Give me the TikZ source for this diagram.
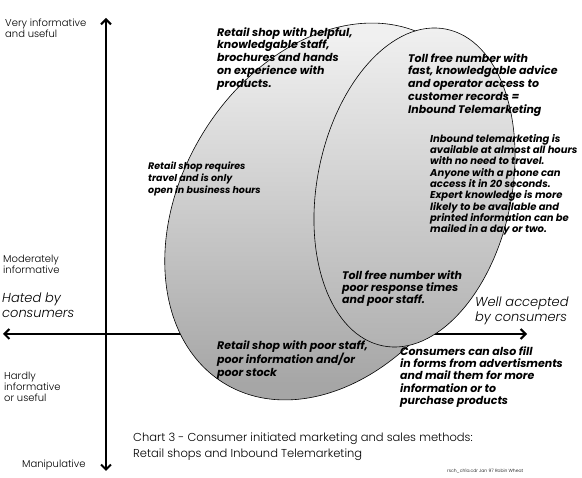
\documentclass[tikz,border=0pt]{standalone}
\usepackage{fontspec}
\setmainfont{Poppins}[UprightFont={* Light},ItalicFont={* Light Italic},BoldFont={* Bold},BoldItalicFont={* Bold Italic}]
\usetikzlibrary{arrows.meta}
\definecolor{bigtop}{HTML}{F0F0F0}
\definecolor{bigmid}{HTML}{D6D6D6}
\definecolor{bigbot}{HTML}{A6A6A6}
\definecolor{smtop}{HTML}{F2F2F2}
\definecolor{smmid}{HTML}{DADADA}
\definecolor{smbot}{HTML}{B2B2B2}
\begin{document}
\begin{tikzpicture}[x=1pt,y=1pt,
  axis/.style={line width=2pt,{Straight Barb[length=5pt,width=10pt]}-{Straight Barb[length=5pt,width=10pt]}},
  blob/.style={draw=black,line width=0.6pt},
  axlabel/.style={anchor=north west,inner sep=0pt,align=left,font=\fontsize{10}{11}\selectfont},
  mood/.style={anchor=north west,inner sep=0pt,align=left,font=\fontsize{13}{14.5}\selectfont\itshape},
  lab/.style={anchor=north west,inner sep=0pt,align=left,font=\fontsize{11}{12.8}\selectfont\bfseries\itshape},
  smalllab/.style={anchor=north west,inner sep=0pt,align=left,font=\fontsize{10}{11.3}\selectfont\bfseries\itshape},
  titlelab/.style={anchor=north west,inner sep=0pt,align=left,font=\fontsize{11.5}{16}\selectfont},
  footlab/.style={anchor=north west,inner sep=0pt,font=\fontsize{4.5}{5}\selectfont}
]
\useasboundingbox (0,0) rectangle (582,-478);
\fill[white] (0,0) rectangle (582,-478);

% axes
\coordinate (vtop) at (106,-18);
\coordinate (vbot) at (106,-471);
\coordinate (hleft) at (3,-334);
\coordinate (hright) at (527,-334);
\draw[axis] (vbot) -- (vtop);
\draw[axis] (hleft) -- (hright);

% ellipses
\coordinate (bigc) at (328.5,-211.5);
\coordinate (smc) at (414.5,-187.5);
\path[blob,top color=bigtop,middle color=bigmid,bottom color=bigbot]
  (bigc) circle [x radius=201,y radius=148,rotate=59];
\path[blob,top color=smtop,middle color=smmid,bottom color=smbot]
  (smc) circle [x radius=161.5,y radius=97.3,rotate=78.7];

% axis labels
\node[axlabel] (vi) at (5,-19) {Very informative\\and useful};
\node[axlabel] (mi) at (3,-255) {Moderately\\informative};
\node[axlabel] (hi) at (4,-372) {Hardly\\informative\\or useful};
\node[axlabel] (ma) at (22,-460) {Manipulative};
\node[mood] (hated) at (2,-293) {Hated by\\consumers};
\node[mood] (well) at (475,-297) {Well accepted\\by consumers};

% ellipse labels
\node[lab] (rgood) at (217,-27) {Retail shop with helpful,\\knowledgable staff,\\brochures and hands\\on experience with\\products.};
\node[lab] (tgood) at (408,-53) {Toll free number with\\fast, knowledgable advice\\and operator access to\\customer records =\\Inbound Telemarketing};
\node[smalllab] (tinfo) at (430,-134) {Inbound telemarketing is\\available at almost all hours\\with no need to travel.\\Anyone with a phone can\\access it in 20 seconds.\\Expert knowledge is more\\likely to be available and\\printed information can be\\mailed in a day or two.};
\node[smalllab,font=\fontsize{9.5}{12}\selectfont\bfseries\itshape] (rinfo) at (148,-162) {Retail shop requires\\travel and is only\\open in business hours};
\node[lab,font=\fontsize{11}{12}\selectfont\bfseries\itshape] (tpoor) at (342,-270) {Toll free number with\\poor response times\\and poor staff.};
\node[lab,font=\fontsize{11}{13}\selectfont\bfseries\itshape] (rpoor) at (217,-340) {Retail shop with poor staff,\\poor information and/or\\poor stock};
\node[lab,font=\fontsize{11}{12.4}\selectfont\bfseries\itshape] (cons) at (400,-346) {Consumers can also fill\\in forms from advertisments\\and mail them for more\\information or to\\purchase products};

% title
\node[titlelab] (title) at (133,-433) {Chart 3 - Consumer initiated marketing and sales methods:\\Retail shops and Inbound Telemarketing};
\node[footlab] (foot) at (447,-469) {rsch\_ch1a.cdr Jan 97 Robin Wheat};
\end{tikzpicture}
\end{document}
